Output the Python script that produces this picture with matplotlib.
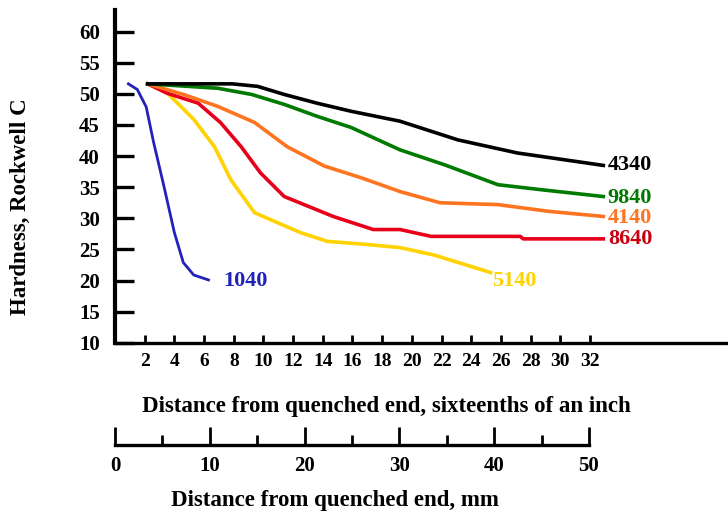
import matplotlib
matplotlib.use("Agg")
import matplotlib.pyplot as plt
from matplotlib.ticker import MultipleLocator

plt.rcParams['font.family'] = ['Liberation Serif', 'DejaVu Serif']
plt.rcParams['font.weight'] = 'bold'

# distance in sixteenths of an inch, hardness in Rockwell C
x_1040 = [0.9, 1.5, 2.1, 2.6, 3.3, 4.0, 4.6, 5.3, 6.3]
y_1040 = [51.6, 50.7, 47.9, 42.2, 35.1, 27.7, 22.9, 20.9, 20.1]

x_4340 = [2.2, 7.9, 9.6, 11.4, 13.6, 15.9, 19.2, 23.1, 27.1, 32.9]
y_4340 = [51.6, 51.6, 51.2, 49.9, 48.5, 47.2, 45.6, 42.6, 40.5, 38.5]

x_9840 = [2.2, 6.9, 9.2, 11.4, 13.6, 15.9, 19.2, 22.2, 25.8, 28.7, 32.9]
y_9840 = [51.6, 50.9, 49.9, 48.3, 46.4, 44.6, 41.0, 38.6, 35.4, 34.6, 33.5]

x_4140 = [2.2, 4.6, 6.9, 9.4, 11.6, 14.1, 16.6, 19.2, 21.9, 25.8, 29.3, 32.9]
y_4140 = [51.6, 49.9, 48.0, 45.4, 41.5, 38.4, 36.5, 34.3, 32.5, 32.2, 31.1, 30.3]

x_8640 = [2.2, 3.5, 5.6, 7.1, 8.5, 9.8, 11.4, 14.7, 17.4, 19.2, 21.3, 27.3, 27.5, 32.9]
y_8640 = [51.6, 50.1, 48.5, 45.4, 41.5, 37.3, 33.5, 30.3, 28.2, 28.2, 27.1, 27.1, 26.7, 26.7]

x_5140 = [2.2, 3.5, 5.3, 6.7, 7.8, 9.4, 12.5, 14.3, 17.0, 19.2, 21.5, 25.3]
y_5140 = [51.6, 50.2, 45.9, 41.5, 36.2, 30.9, 27.7, 26.3, 25.8, 25.3, 24.1, 21.3]

series = [
    ("4340", x_4340, y_4340, "#000000", "#000000", (33.2, 38.5), 2.6),
    ("9840", x_9840, y_9840, "#007a00", "#007a00", (33.2, 33.3), 2.6),
    ("4140", x_4140, y_4140, "#ff7420", "#ff7420", (33.2, 30.0), 2.6),
    ("8640", x_8640, y_8640, "#e8001a", "#c80010", (33.2, 26.6), 2.6),
    ("5140", x_5140, y_5140, "#ffd200", "#ffd200", (25.4, 20.0), 2.6),
    ("1040", x_1040, y_1040, "#2222bb", "#2222bb", (7.3, 20.0), 2.0),
]

fig = plt.figure(figsize=(7.28, 5.14), dpi=100)
ax = fig.add_axes([0.158, 0.333, 0.842, 0.648])

for name, xs, ys, col, tcol, pos, lw in series[::-1]:
    ax.plot(xs, ys, color=col, lw=lw, solid_joinstyle='round')
    ax.text(pos[0], pos[1], name, color=tcol, fontsize=16, fontweight='bold',
            ha='left', va='center')

ax.set_xlim(0, 41.3)
ax.set_ylim(10, 63.5)
ax.set_yticks(range(10, 61, 5))
ax.set_xticks(range(2, 33, 2))
for s in ['top', 'right']:
    ax.spines[s].set_visible(False)
ax.spines['left'].set_linewidth(3.0)
ax.spines['bottom'].set_linewidth(2.4)
ax.tick_params(axis='y', direction='in', length=14, width=2.4, pad=11, labelsize=15)
ax.tick_params(axis='x', direction='in', length=6, width=2.0, pad=7, labelsize=14)
ax.set_ylabel("Hardness, Rockwell C", fontsize=16.5, fontweight='bold')
ax.yaxis.set_label_coords(-0.155, 0.41)
ax.yaxis.label.set_va('center')
ax.set_xlabel("Distance from quenched end, sixteenths of an inch", fontsize=16.5,
              fontweight='bold')
ax.xaxis.set_label_coords(0.442, -0.192)
ax.xaxis.label.set_va('center')

# second scale in millimetres
ax2 = fig.add_axes([0.158, 0.134, 0.651, 0.05])
ax2.set_xlim(0, 50)
ax2.set_ylim(0, 1)
ax2.set_yticks([])
ax2.xaxis.set_major_locator(MultipleLocator(10))
ax2.xaxis.set_minor_locator(MultipleLocator(5))
for s in ['top', 'right', 'left']:
    ax2.spines[s].set_visible(False)
ax2.spines['bottom'].set_linewidth(2.4)
ax2.patch.set_visible(False)
ax2.tick_params(axis='x', which='major', direction='in', length=13, width=2.0,
                pad=8, labelsize=15)
ax2.tick_params(axis='x', which='minor', direction='in', length=7, width=2.0)
ax2.set_xlabel("Distance from quenched end, mm", fontsize=16.5, fontweight='bold')
ax2.xaxis.set_label_coords(0.464, -2.14)
ax2.xaxis.label.set_va('center')

fig.savefig("out.png", dpi=100)
